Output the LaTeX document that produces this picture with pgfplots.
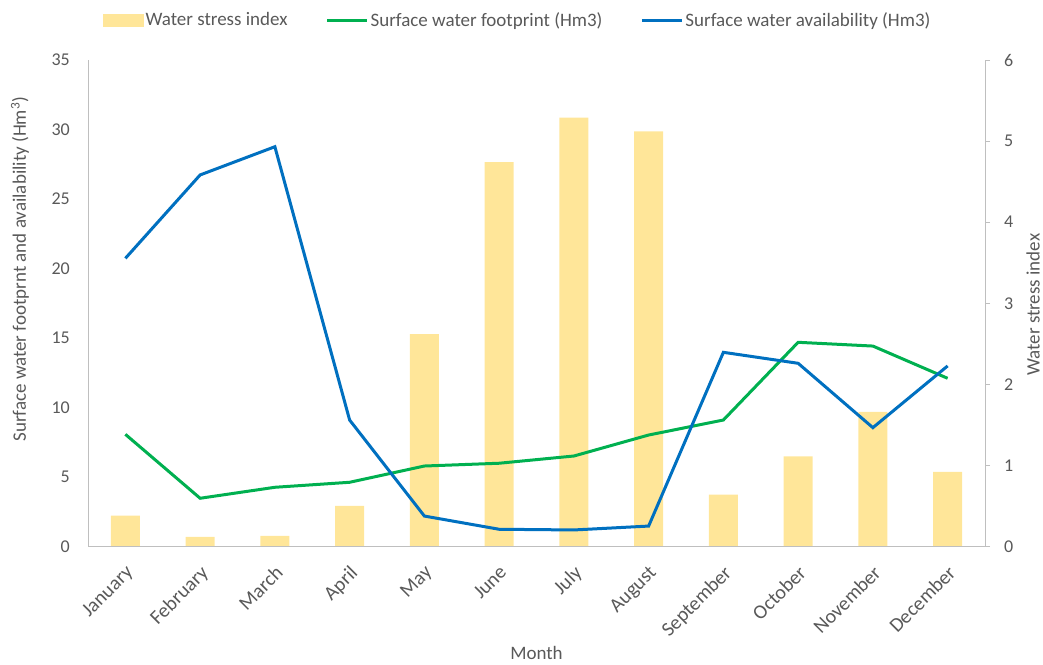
\documentclass[border=0pt]{standalone}
\usepackage{pgfplots}
\pgfplotsset{compat=1.18}
\usepackage{fontspec}
\setmainfont{Carlito}

\definecolor{barY}{HTML}{FFE699}
\definecolor{lineG}{HTML}{00B050}
\definecolor{lineB}{HTML}{0070C0}
\definecolor{txt}{HTML}{595959}
\definecolor{axg}{HTML}{BFBFBF}

% month index, water stress index
\pgfplotstableread{
m  wsi
0  0.38
1  0.12
2  0.13
3  0.50
4  2.62
5  4.74
6  5.29
7  5.12
8  0.64
9  1.11
10 1.66
11 0.92
}\stress

% month index, footprint, availability (Hm3)
\pgfplotstableread{
m  foot   avail
0  8.07   20.73
1  3.47   26.73
2  4.26   28.76
3  4.62   9.10
4  5.79   2.19
5  5.99   1.24
6  6.51   1.19
7  8.02   1.47
8  9.10   13.97
9  14.69  13.18
10 14.42  8.55
11 12.10  12.99
}\water

\pgfplotsset{
  base/.style={
    scale only axis, width=897pt, height=486.5pt,
    at={(88pt,117.5pt)}, anchor=south west,
    xmin=-0.5, xmax=11.5,
    font=\fontsize{18}{21}\selectfont,
    tick label style={text=txt},
    label style={text=txt, font=\fontsize{19}{22}\selectfont},
    axis line style={-, draw=axg, line width=1pt},
    /pgf/number format/assume math mode=true,
  },
}

\begin{document}
\begin{tikzpicture}[x=1pt,y=1pt]
\useasboundingbox (0,0) rectangle (1043,664);

% right axis: water stress index bars
\begin{axis}[base,
  axis x line=none,
  axis y line*=right,
  ymin=0, ymax=6, ytick={0,1,...,6},
  tick align=outside, major tick length=5pt,
  ytick style={draw=axg, line width=1pt},
  yticklabel style={inner sep=0pt, xshift=14pt, anchor=west},
  ylabel={Water stress index},
  ylabel style={at={(axis description cs:1.0535,0.497)}, anchor=center},
]
\addplot[ybar, bar width=29pt, fill=barY, draw=none] table[x=m, y=wsi] {\stress};
\end{axis}

% left axis: footprint and availability lines
\begin{axis}[base,
  axis x line*=bottom,
  axis y line*=left,
  ymin=0, ymax=35, ytick={0,5,...,35},
  xtick={0,...,11},
  xticklabels={January,February,March,April,May,June,July,August,September,October,November,December},
  major tick length=0pt,
  tick style={draw=none},
  yticklabel style={inner sep=0pt, xshift=-18pt, anchor=east},
  xticklabel style={rotate=45, anchor=north east, inner sep=0pt,
    xshift=-13pt, yshift=-12pt, font=\fontsize{20}{23}\selectfont},
  ylabel={Surface water footprnt and availability (Hm\textsuperscript{3})},
  ylabel style={at={(axis description cs:-0.0758,0.57)}, anchor=center},
  xlabel={Month},
  xlabel style={at={(axis description cs:0.5,-0.218)}, anchor=center},
  legend columns=3,
  legend style={at={(axis description cs:0.0167,1.0822)}, anchor=west,
    draw=none, fill=none, inner sep=0pt,
    font=\fontsize{19}{22}\selectfont, text=txt,
    /tikz/every even column/.append style={column sep=36pt}},
  legend cell align=left,
]
\addlegendimage{legend image code/.code={\fill[barY] (0pt,-6pt) rectangle (40pt,6pt);}}
\addlegendentry{Water stress index}
\addplot[lineG, line width=3pt, no markers,
  legend image code/.code={\draw[lineG, line width=3pt] (0pt,0pt) -- (40pt,0pt);}]
  table[x=m, y=foot] {\water};
\addlegendentry{Surface water footprint (Hm3)}
\addplot[lineB, line width=3pt, no markers,
  legend image code/.code={\draw[lineB, line width=3pt] (0pt,0pt) -- (40pt,0pt);}]
  table[x=m, y=avail] {\water};
\addlegendentry{Surface water availability (Hm3)}
\end{axis}
\end{tikzpicture}
\end{document}
